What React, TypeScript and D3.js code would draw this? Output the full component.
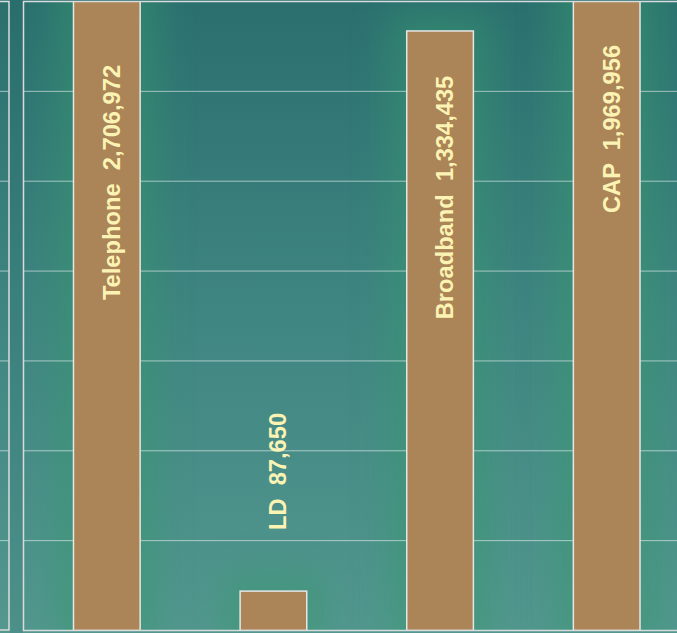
import React from "react";
import * as d3 from "d3";

const categories = ["Telephone", "LD", "Broadband", "CAP"];
const values = [2706972, 87650, 1334435, 1969956];
const yTicks = [200000, 400000, 600000, 800000, 1000000, 1200000];

const W = 677;
const H = 633;
const plot = { left: 23.5, top: 1.5, right: 690, bottom: 630.5 };
// vertical centre of each rotated label (screen px)
const labelCenters = [182.5, 471.5, 197.5, 129];

export default function App() {
  const x = d3
    .scaleBand<string>()
    .domain(categories)
    .range([plot.left, plot.right])
    .paddingInner(0.6)
    .paddingOuter(0.3);
  const y = d3.scaleLinear().domain([0, 1400000]).range([plot.bottom, plot.top]);
  const fmt = d3.format(",");
  const bw = x.bandwidth();

  return (
    <svg width={W} height={H} style={{ position: "absolute", left: 0, top: 0 }}>
      <defs>
        <linearGradient id="bg" x1="0" y1="0" x2="0" y2="1">
          <stop offset="0" stopColor="#2b706f" />
          <stop offset="0.5" stopColor="#3f8581" />
          <stop offset="1" stopColor="#53978f" />
        </linearGradient>
        <filter id="blur" x="-50%" y="-50%" width="200%" height="200%">
          <feGaussianBlur stdDeviation="18" />
        </filter>
        <clipPath id="plotClip">
          <rect x={plot.left} y={plot.top} width={plot.right - plot.left} height={plot.bottom - plot.top} />
        </clipPath>
      </defs>
      <rect x={0} y={0} width={W} height={H} fill="url(#bg)" />
      <rect x={9.5} y={0} width={13.5} height={H} fill="#1f5f66" opacity={0.12} />
      {/* left neighbouring panel */}
      <rect x={-20} y={1.5} width={29} height={628.5} fill="none" stroke="#d9dcdc" strokeWidth={1.5} />
      {yTicks.map((t) => (
        <line key={"l" + t} x1={0} x2={8.5} y1={y(t)} y2={y(t)} stroke="#ffffff" strokeOpacity={0.55} strokeWidth={1} />
      ))}
      <g clipPath="url(#plotClip)">
        {categories.map((c, i) => (
          <rect
            key={"g" + c}
            x={(x(c) as number) - 18}
            y={y(values[i]) - 18}
            width={bw + 36}
            height={plot.bottom - y(values[i]) + 40}
            fill="#379a70"
            opacity={0.5}
            filter="url(#blur)"
          />
        ))}
        {yTicks.map((t) => (
          <line key={t} x1={plot.left} x2={plot.right} y1={y(t)} y2={y(t)} stroke="#ffffff" strokeOpacity={0.55} strokeWidth={1} />
        ))}
        {categories.map((c, i) => (
          <rect
            key={c}
            x={x(c)}
            y={Math.max(y(values[i]), plot.top - 5)}
            width={bw}
            height={plot.bottom - Math.max(y(values[i]), plot.top - 5)}
            fill="#ab8457"
            stroke="#e6e6e6"
            strokeWidth={1.5}
          />
        ))}
      </g>
      <rect
        x={plot.left}
        y={plot.top}
        width={plot.right - plot.left}
        height={plot.bottom - plot.top}
        fill="none"
        stroke="#d9dcdc"
        strokeWidth={1.5}
      />
      {categories.map((c, i) => {
        const cx = (x(c) as number) + bw / 2 + 13;
        const cy = labelCenters[i];
        return (
          <text
            key={"t" + c}
            transform={`translate(${cx},${cy}) rotate(-90)`}
            textAnchor="middle"
            fill="#fbf3b3"
            fontFamily="Liberation Sans, Arial, sans-serif"
            fontWeight="bold"
            fontSize={23.7}
            xmlSpace="preserve"
            style={{ whiteSpace: "pre" }}
          >
            {`${c}  ${fmt(values[i])}`}
          </text>
        );
      })}
    </svg>
  );
}
